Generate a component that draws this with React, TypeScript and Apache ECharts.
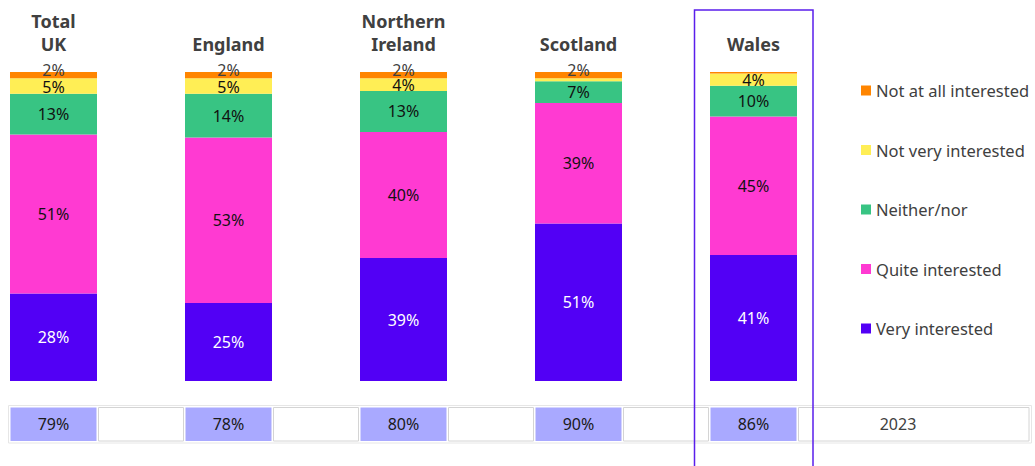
import React, { useEffect, useRef } from "react";
import * as echarts from "echarts";

const categories = ["Total\nUK", "England", "Northern\nIreland", "Scotland", "Wales"];
const veryInterested = [28, 25, 39, 51, 41];
const quiteInterested = [51, 53, 40, 39, 45];
const neitherNor = [13, 14, 13, 7, 10];
const notVeryInterested = [5, 5, 4, 1, 4];
const notAtAllInterested = [2, 2, 2, 2, 0.5];
const totalInterested = [79, 78, 80, 90, 86];
const yearLabel = "2023";
const highlightIndex = 4;

const seriesDefs = [
  { name: "Very interested", data: veryInterested, color: "#5200F5", labelColor: "#ffffff" },
  { name: "Quite interested", data: quiteInterested, color: "#FF3AD2", labelColor: "#111111" },
  { name: "Neither/nor", data: neitherNor, color: "#38C483", labelColor: "#111111" },
  { name: "Not very interested", data: notVeryInterested, color: "#FFEE55", labelColor: "#111111" },
  { name: "Not at all interested", data: notAtAllInterested, color: "#FF8500", labelColor: "#404040" },
];

const FONT = "Noto Sans";

export default function App() {
  const ref = useRef<HTMLDivElement>(null);
  useEffect(() => {
    if (!ref.current) return;
    const chart = echarts.init(ref.current, undefined, { renderer: "svg" });
    const totals = categories.map((_, i) => seriesDefs.reduce((s, d) => s + d.data[i], 0));
    const gridLeft = 53.5;
    const gridWidth = 700;
    const barW = 87;

    const option: any = {
      animation: false,
      textStyle: { fontFamily: FONT },
      grid: [
        { left: gridLeft, width: gridWidth, top: 72, height: 309 },
        { left: gridLeft, width: gridWidth, top: 407.5, height: 33.5 },
      ],
      xAxis: [
        {
          type: "category",
          gridIndex: 0,
          data: categories,
          boundaryGap: false,
          position: "top",
          axisLine: { show: false },
          axisTick: { show: false },
          splitLine: { show: false },
          axisLabel: {
            margin: 17,
            fontSize: 18,
            fontWeight: "bold",
            color: "#404040",
            lineHeight: 23,
            fontFamily: FONT,
            interval: 0,
          },
        },
        {
          type: "category",
          gridIndex: 1,
          data: categories,
          boundaryGap: false,
          show: false,
        },
      ],
      yAxis: [
        { type: "value", gridIndex: 0, min: 0, max: 100, show: false },
        { type: "value", gridIndex: 1, min: 0, max: 1, show: false },
      ],
      legend: {
        orient: "vertical",
        left: 856,
        top: 77,
        itemGap: 42.5,
        itemWidth: 10,
        itemHeight: 10,
        icon: "rect",
        data: [
          "Not at all interested",
          "Not very interested",
          "Neither/nor",
          "Quite interested",
          "Very interested",
        ],
        textStyle: { fontSize: 16.5, color: "#404040", fontFamily: FONT },
      },
      series: [
        ...seriesDefs.map((d, si) => ({
          name: d.name,
          type: "bar",
          stack: "all",
          xAxisIndex: 0,
          yAxisIndex: 0,
          barWidth: barW,
          clip: false,
          itemStyle: { color: d.color },
          label: {
            show: true,
            position: "inside",
            offset: si === 4 ? [0, -5.5] : si === 3 ? [0, 0.5] : [0, 0],
            color: d.labelColor,
            fontSize: 16,
            lineHeight: 14,
            fontFamily: FONT,
            formatter: (p: any) => {
              const raw = d.data[p.dataIndex];
              return raw >= 1.5 ? raw + "%" : "";
            },
          },
          data: d.data.map((v, i) => (v / totals[i]) * 100),
        })),
        {
          name: "Total interested",
          type: "bar",
          xAxisIndex: 1,
          yAxisIndex: 1,
          barWidth: barW - 1,
          clip: false,
          itemStyle: { color: "#A9A9FF" },
          label: {
            show: true,
            position: "inside",
            color: "#1a1a1a",
            fontSize: 16,
            fontFamily: FONT,
            formatter: (p: any) => totalInterested[p.dataIndex] + "%",
          },
          data: totalInterested.map(() => 1),
        },
      ],
    };
    chart.setOption(option);

    const centers = categories.map((_, i) => chart.convertToPixel({ xAxisIndex: 0 }, i) as number);
    const half = barW / 2;
    const cellTop = 407.5;
    const cellH = 33.5;
    const graphics: any[] = [];
    graphics.push({
      type: "rect",
      shape: { x: 8.5, y: 405.5, width: 1023, height: 37.5 },
      style: { fill: "none", stroke: "#e6e6e6", lineWidth: 1 },
      z: 1,
    });
    centers.forEach((c, i) => {
      const x0 = c + half + 1.5;
      const x1 = i < centers.length - 1 ? centers[i + 1] - half - 1.5 : 1029;
      graphics.push({
        type: "rect",
        shape: { x: x0, y: cellTop, width: x1 - x0, height: cellH },
        style: { fill: "#ffffff", stroke: "#d4d4d4", lineWidth: 1 },
        z: 1,
      });
    });
    graphics.push({
      type: "text",
      style: {
        text: yearLabel,
        x: 898,
        y: cellTop + cellH / 2,
        align: "center",
        verticalAlign: "middle",
        fill: "#404040",
        font: `16px "${FONT}"`,
      },
      z: 2,
    });
    const hc = centers[highlightIndex];
    graphics.push({
      type: "rect",
      shape: { x: hc - 59, y: 10, width: 118.5, height: 470 },
      style: { fill: "none", stroke: "#5A1EEB", lineWidth: 1.5 },
      z: 10,
    });
    chart.setOption({ graphic: graphics });

    return () => chart.dispose();
  }, []);
  return (
    <div
      ref={ref}
      style={{ position: "fixed", left: 0, top: 0, width: 1035, height: 466, background: "#ffffff" }}
    />
  );
}
